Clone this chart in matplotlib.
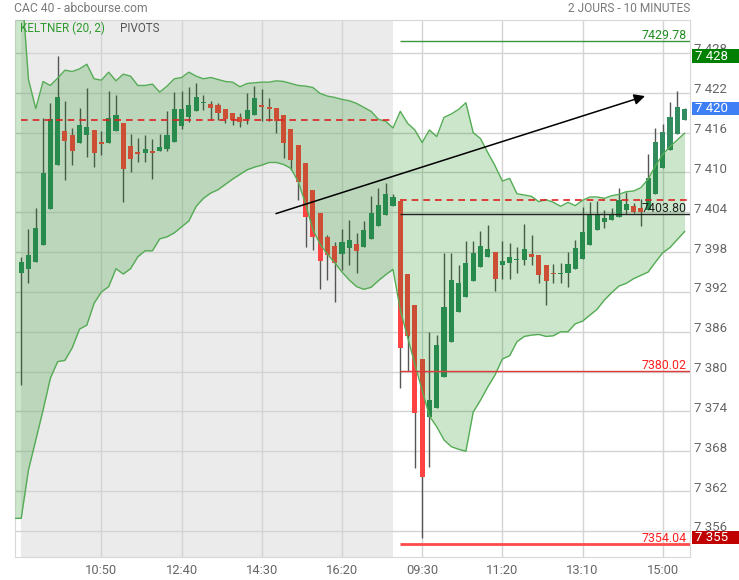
import matplotlib
matplotlib.use("Agg")
import matplotlib.pyplot as plt
import matplotlib.transforms as mtransforms
from matplotlib.patches import Rectangle
import numpy as np

plt.rcParams['font.family'] = ['Roboto', 'DejaVu Sans']

# 10-minute candles, day 1 (09:00-17:30) then day 2 (09:00-15:30)
opens = [7394.8, 7395.5, 7396.5, 7399.0, 7404.5, 7411.1, 7416.2, 7415.6, 7414.4, 7415.7,
         7416.4, 7414.6, 7414.4, 7416.2, 7417.4, 7414.0, 7413.1, 7412.9, 7413.3, 7413.2,
         7413.5, 7414.6, 7417.0, 7418.3, 7419.3, 7420.4, 7420.3, 7420.1, 7419.6, 7418.9,
         7418.4, 7418.05, 7418.6, 7420.1, 7419.9, 7419.7, 7418.7, 7416.5, 7414.1, 7411.4,
         7407.4, 7403.9, 7400.3, 7398.9, 7397.7, 7398.6, 7399.2, 7398.7, 7400.0, 7401.9,
         7403.6, 7405.0,
         7405.7, 7394.7, 7390.0, 7381.9, 7373.1, 7374.5, 7379.2, 7384.4, 7389.0, 7391.2,
         7393.7, 7395.7, 7397.3, 7398.0, 7396.0, 7396.3, 7396.8, 7396.8, 7397.7, 7397.5,
         7396.0, 7394.9, 7394.7, 7394.8, 7395.4, 7397.0, 7399.0, 7401.3, 7402.5, 7402.8,
         7403.3, 7404.4, 7404.9, 7404.7, 7404.4, 7406.7, 7410.7, 7413.4, 7415.8, 7417.9]
highs = [7397.2, 7401.5, 7404.7, 7418.2, 7420.4, 7427.5, 7420.8, 7416.7, 7419.7, 7422.7,
         7416.4, 7416.3, 7422.2, 7421.6, 7417.4, 7415.8, 7415.2, 7415.6, 7415.0, 7415.8,
         7419.2, 7422.1, 7422.2, 7422.8, 7423.4, 7421.7, 7420.7, 7420.4, 7419.6, 7418.9,
         7418.9, 7421.9, 7423.0, 7422.5, 7421.2, 7419.7, 7418.7, 7416.5, 7414.1, 7411.4,
         7407.4, 7403.9, 7400.6, 7399.5, 7401.5, 7402.9, 7400.9, 7402.7, 7406.4, 7407.6,
         7408.4, 7406.8,
         7405.7, 7394.7, 7390.0, 7381.9, 7385.9, 7385.5, 7397.8, 7397.8, 7396.1, 7399.6,
         7399.6, 7401.2, 7402.1, 7398.0, 7399.6, 7399.4, 7398.7, 7402.3, 7400.6, 7397.5,
         7396.0, 7396.2, 7396.4, 7398.0, 7399.8, 7404.8, 7405.6, 7405.7, 7404.4, 7404.7,
         7407.6, 7407.1, 7405.4, 7406.0, 7412.8, 7416.7, 7417.3, 7420.6, 7422.2, 7419.7]
lows = [7378.0, 7393.4, 7396.5, 7399.0, 7404.5, 7411.1, 7408.8, 7411.1, 7414.4, 7412.4,
        7410.8, 7412.7, 7414.4, 7416.2, 7405.5, 7410.0, 7411.5, 7411.5, 7409.0, 7413.2,
        7413.3, 7414.6, 7416.5, 7417.6, 7419.3, 7419.4, 7418.1, 7417.9, 7417.5, 7417.1,
        7416.9, 7417.3, 7418.6, 7417.8, 7417.7, 7416.0, 7412.1, 7410.4, 7405.9, 7398.8,
        7398.3, 7392.5, 7393.8, 7390.5, 7395.3, 7396.0, 7394.8, 7398.7, 7400.0, 7401.9,
        7403.6, 7405.0,
        7377.6, 7380.1, 7365.5, 7355.0, 7365.7, 7374.5, 7379.2, 7384.4, 7389.0, 7391.2,
        7393.7, 7395.7, 7397.3, 7392.2, 7394.0, 7394.0, 7394.9, 7396.0, 7396.0, 7393.4,
        7390.0, 7393.3, 7393.3, 7392.7, 7395.4, 7397.0, 7399.0, 7401.3, 7401.7, 7402.8,
        7403.3, 7403.8, 7403.9, 7401.9, 7404.4, 7406.7, 7410.7, 7413.4, 7415.8, 7417.9]
closes = [7396.5, 7397.5, 7401.6, 7409.9, 7418.0, 7421.4, 7414.8, 7413.2, 7417.1, 7416.8,
          7412.9, 7414.3, 7418.2, 7418.6, 7410.5, 7412.0, 7412.8, 7413.6, 7412.9, 7413.8,
          7415.6, 7419.5, 7419.6, 7420.2, 7421.4, 7420.4, 7419.7, 7419.0, 7418.1, 7417.9,
          7417.6, 7419.4, 7421.2, 7419.9, 7419.6, 7417.7, 7414.4, 7411.8, 7408.5, 7403.3,
          7400.3, 7396.7, 7397.5, 7396.3, 7399.5, 7399.9, 7398.2, 7401.3, 7403.9, 7405.1,
          7406.8, 7406.3,
          7383.5, 7385.4, 7373.7, 7364.2, 7375.8, 7384.0, 7389.7, 7393.8, 7393.4, 7396.4,
          7397.9, 7398.9, 7398.4, 7394.0, 7396.7, 7397.2, 7396.8, 7398.4, 7397.3, 7394.5,
          7393.7, 7394.7, 7394.9, 7396.2, 7398.6, 7401.0, 7403.6, 7403.6, 7403.2, 7403.7,
          7405.8, 7405.3, 7404.1, 7404.0, 7409.1, 7414.6, 7416.1, 7418.3, 7419.9, 7419.6]

# Keltner (20, 2) bands
upper = [7439.0, 7424.0, 7419.6, 7423.7, 7423.1, 7424.2, 7425.4, 7425.2, 7425.6, 7426.3,
         7424.1, 7423.9, 7425.1, 7423.8, 7424.8, 7424.5, 7423.1, 7423.1, 7423.3, 7422.1,
         7423.0, 7424.1, 7424.3, 7425.1, 7424.5, 7424.1, 7424.3, 7424.0, 7423.7, 7423.6,
         7422.9, 7423.4, 7423.5, 7423.6, 7423.6, 7423.8, 7423.7, 7423.4, 7423.1, 7423.0,
         7422.8, 7421.9, 7421.5, 7421.3, 7421.0, 7420.8, 7420.4, 7419.8, 7419.2, 7418.0,
         7417.7, 7416.7,
         7419.2, 7417.4, 7416.4, 7414.5, 7416.4, 7415.4, 7418.3, 7418.8, 7419.5, 7420.5,
         7416.0, 7415.1, 7413.0, 7411.0, 7408.7, 7409.1, 7406.8, 7406.6, 7406.4, 7405.6,
         7405.9, 7405.5, 7404.9, 7405.5, 7405.0, 7405.8, 7406.3, 7406.3, 7406.1, 7406.5,
         7406.7, 7407.1, 7407.2, 7407.7, 7409.0, 7411.0, 7412.7, 7413.9, 7414.9, 7415.9]
lower = [7357.9, 7365.2, 7369.7, 7374.2, 7379.0, 7381.5, 7381.7, 7383.6, 7386.4, 7387.0,
         7390.3, 7392.0, 7392.8, 7395.5, 7394.7, 7395.5, 7397.3, 7398.2, 7398.2, 7400.0,
         7400.3, 7400.9, 7401.8, 7402.7, 7404.9, 7406.1, 7406.9, 7407.4, 7408.2, 7409.0,
         7409.7, 7410.4, 7410.8, 7411.1, 7411.5, 7411.5, 7411.2, 7410.6, 7408.6, 7405.3,
         7401.4, 7399.2, 7397.7, 7396.4, 7395.0, 7393.8, 7392.8, 7392.4, 7392.7, 7393.7,
         7394.6, 7395.4,
         7389.3, 7385.2, 7381.1, 7377.2, 7373.3, 7371.7, 7369.7, 7368.7, 7368.3, 7368.0,
         7373.9, 7375.7, 7377.7, 7379.5, 7381.9, 7382.4, 7384.5, 7385.3, 7385.5, 7385.6,
         7385.3, 7385.4, 7386.0, 7386.0, 7387.2, 7387.6, 7388.5, 7389.4, 7390.8, 7391.9,
         7392.9, 7393.3, 7394.0, 7394.5, 7395.0, 7396.5, 7397.9, 7398.7, 7399.9, 7401.1]

pivots = [7429.78, 7403.80, 7380.02, 7354.04]
pivot_colors = ['#3c963c', '#222222', '#e03a3a', '#ff4a4a']
pivot_text_colors = ['#1e8c1e', '#222222', '#ff2020', '#ff2020']
pivot_widths = [1.0, 1.0, 1.0, 2.0]

ref_day1 = 7417.9
ref_day2 = 7405.8
day2_start = 52

xtick_pos = [11, 22, 33, 44, 55, 66, 77, 88]
xtick_labels = ['10:50', '12:40', '14:30', '16:20', '09:30', '11:20', '13:10', '15:00']
ytick_vals = list(range(7356, 7429, 6))

trend_start = (34.95, 7403.8)
trend_end = (85.57, 7421.5)

W, H = 739, 580
fig = plt.figure(figsize=(W / 100, H / 100), dpi=100)
ax = fig.add_axes([15 / W, (H - 557) / H, 675 / W, 537 / H])
ax.set_xlim(-0.85, 91.74)
ax.set_ylim(7352.08, 7432.96)

x = np.arange(len(opens))
o = np.array(opens); c = np.array(closes)
hi = np.array(highs); lo = np.array(lows)

# day 1 shading
ax.axvspan(0, day2_start - 1, color='#ebebeb', lw=0, zorder=0)

# grid
ax.set_axisbelow(True)
ax.set_xticks(xtick_pos)
ax.set_xticklabels(xtick_labels)
ax.set_yticks(ytick_vals)
ax.set_yticklabels([])
ax.grid(True, color='#d4d4d4', lw=1)
ax.tick_params(axis='x', length=0, pad=5, labelsize=9.3, labelcolor='#666666')
ax.tick_params(axis='y', length=0)
for s in ax.spines.values():
    s.set_color('#d8d8d8')

# candles
up = c >= o
cols = np.where(up, '#338c60', '#ff4343')
ax.vlines(x, lo, hi, color='#555555', lw=1, zorder=2)
body = np.maximum(np.abs(c - o), 0.15)
ax.bar(x, body, bottom=np.minimum(o, c), width=0.7, color=cols, lw=0, zorder=2.5)

# keltner band
xb = np.concatenate([[-0.85], x])
ub = np.concatenate([[upper[0]], upper])
lb = np.concatenate([[lower[0]], lower])
ax.fill_between(xb, lb, ub, color=(0, 0.51, 0), alpha=0.2, lw=0, zorder=3)
ax.plot(xb, ub, color='#55ac55', lw=1, zorder=3.5)
ax.plot(xb, lb, color='#55ac55', lw=1, zorder=3.5)

# reference dashed lines
ax.hlines(ref_day1, 0, day2_start - 1, color='#e02020', lw=1.2, linestyles=(0, (4, 3)), zorder=4)
ax.hlines(ref_day2, day2_start, 91.74, color='#e02020', lw=1.2, linestyles=(0, (4, 3)), zorder=4)

# pivots
up_off = mtransforms.ScaledTranslation(0, 0.02, fig.dpi_scale_trans)
blend = mtransforms.blended_transform_factory(ax.transAxes, ax.transData)
for v, lc, tc, lw in zip(pivots, pivot_colors, pivot_text_colors, pivot_widths):
    ax.hlines(v, day2_start - 0.1, 91.74, color=lc, lw=lw, zorder=4)
    ax.text(0.9956, v, f'{v:.2f}', transform=blend + up_off, ha='right', va='baseline',
            fontsize=8.9, color=tc, zorder=6)

# trend arrow
ax.annotate('', xy=trend_end, xytext=trend_start,
            arrowprops=dict(arrowstyle='-|>', color='black', lw=1.1, mutation_scale=16,
                            shrinkA=0, shrinkB=0), zorder=5)

# right price scale
lab_off = mtransforms.ScaledTranslation(0, 0.03, fig.dpi_scale_trans)
for v in ytick_vals:
    s = f'{v:,}'.replace(',', ' ')
    ax.text(1.006, v, s, transform=blend + lab_off, ha='left', va='center',
            fontsize=9.5, color='#666666', clip_on=False)

# value boxes: high, last, low
boxes = [(max(highs), '#008000'), (closes[-1], '#3f7ff5'), (min(lows), '#c00000')]
for v, col in boxes:
    ax.add_patch(Rectangle((1.003, v - 1.02), 0.08, 2.04, transform=blend,
                           facecolor=col, edgecolor='none', clip_on=False, zorder=7))
    s = f'{round(v + 0.3):,}'.replace(',', ' ')
    ax.text(1.008, v, s, transform=blend, ha='left', va='center', fontsize=9.5,
            color='white', clip_on=False, zorder=8)

# headers
fig.text(14 / W, 1 - 8 / H, 'CAC 40 - abcbourse.com', ha='left', va='center',
         fontsize=8.7, color='#7a7a7a')
fig.text(690 / W, 1 - 8 / H, '2 JOURS - 10 MINUTES', ha='right', va='center',
         fontsize=8.6, color='#7a7a7a')
fig.text(20 / W, 1 - 28 / H, 'KELTNER (20, 2)', ha='left', va='center',
         fontsize=8.4, color='#2e9a2e')
fig.text(120 / W, 1 - 28 / H, 'PIVOTS', ha='left', va='center',
         fontsize=8.4, color='#555555')

fig.savefig('out.png', dpi=100)
